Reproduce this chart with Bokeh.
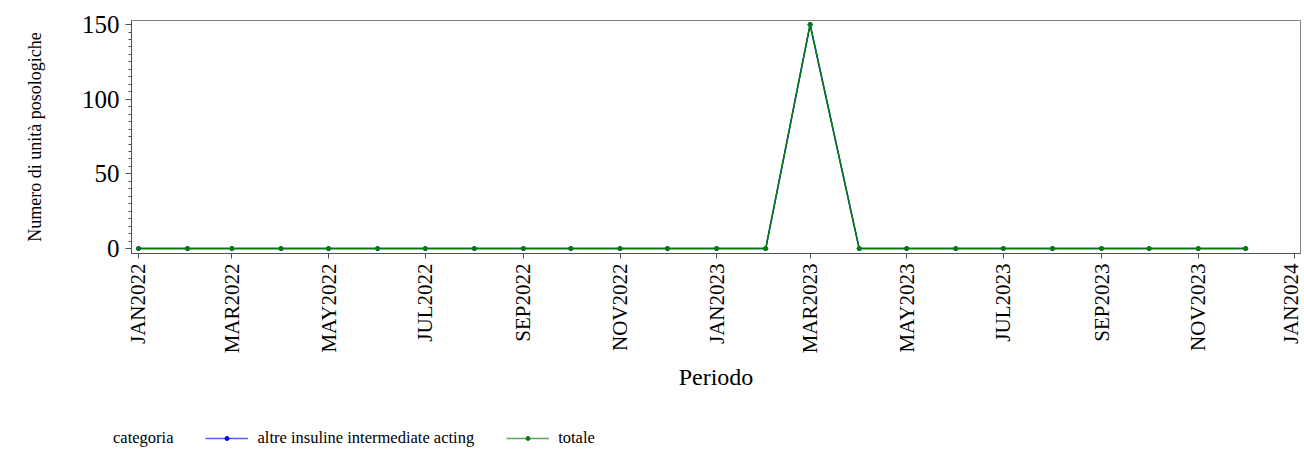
import pandas as pd
from math import pi
from bokeh.plotting import figure
from bokeh.models import (FixedTicker, SingleIntervalTicker, Legend, LegendItem,
                          Range1d, ColumnDataSource)
from bokeh.embed import file_html
from bokeh.resources import INLINE

# ---- data ----
periods = ["2022-01-01", "2022-02-01", "2022-03-01", "2022-04-01", "2022-05-01", "2022-06-01",
           "2022-07-01", "2022-08-01", "2022-09-01", "2022-10-01", "2022-11-01", "2022-12-01",
           "2023-01-01", "2023-02-01", "2023-03-01", "2023-04-01", "2023-05-01", "2023-06-01",
           "2023-07-01", "2023-08-01", "2023-09-01", "2023-10-01", "2023-11-01", "2023-12-01"]
altre_insuline = [0, 0, 0, 0, 0, 0, 0, 0, 0, 0, 0, 0,
                  0, 0, 150, 0, 0, 0, 0, 0, 0, 0, 0, 0]
totale = [0, 0, 0, 0, 0, 0, 0, 0, 0, 0, 0, 0,
          0, 0, 150, 0, 0, 0, 0, 0, 0, 0, 0, 0]
tick_dates = ["2022-01-01", "2022-03-01", "2022-05-01", "2022-07-01", "2022-09-01", "2022-11-01",
              "2023-01-01", "2023-03-01", "2023-05-01", "2023-07-01", "2023-09-01", "2023-11-01",
              "2024-01-01"]
tick_labels = ["JAN2022", "MAR2022", "MAY2022", "JUL2022", "SEP2022", "NOV2022",
               "JAN2023", "MAR2023", "MAY2023", "JUL2023", "SEP2023", "NOV2023", "JAN2024"]
series_names = ["altre insuline intermediate acting", "totale"]
series_colors = ["#0000ff", "#008000"]
legend_title = "categoria"
x_title = "Periodo"
y_title = "Numero di unità posologiche"

FONT = "Liberation Serif"
DAY = 86400000.0

x = pd.to_datetime(periods)
src = ColumnDataSource(dict(x=x, a=altre_insuline, t=totale))
tick_ms = [float(pd.Timestamp(d).value // 10**6) for d in tick_dates]

x0 = float(pd.Timestamp("2022-01-01").value // 10**6) - 4.4 * DAY
x1 = float(pd.Timestamp("2024-01-01").value // 10**6) + 3.6 * DAY

p = figure(width=1302, height=421, x_axis_type="datetime", output_backend="svg",
           toolbar_location=None, x_range=Range1d(x0, x1), y_range=Range1d(-3.3, 152.7),
           min_border_left=131, min_border_top=20, min_border_right=2, min_border_bottom=168)
p.xgrid.visible = False
p.ygrid.visible = False
p.outline_line_color = "#808080"
p.outline_line_width = 1

p.line("x", "a", source=src, color=series_colors[0], line_width=1.5)
p.scatter("x", "a", source=src, color=series_colors[0], size=4)
p.line("x", "t", source=src, color=series_colors[1], line_width=1.5)
p.scatter("x", "t", source=src, color=series_colors[1], size=4)

# x axis
xa = p.xaxis[0]
xa.ticker = FixedTicker(ticks=tick_ms, minor_ticks=[])
xa.major_label_overrides = dict(zip(tick_ms, tick_labels))
xa.major_label_orientation = pi / 2
xa.major_tick_in = 0
xa.major_tick_out = 5
xa.minor_tick_in = 0
xa.minor_tick_out = 0
xa.major_label_standoff = 5
xa.major_label_text_font = FONT
xa.major_label_text_font_size = "21px"
xa.major_label_text_color = "black"
xa.axis_label = x_title
xa.axis_label_text_font = FONT
xa.axis_label_text_font_size = "24px"
xa.axis_label_text_font_style = "normal"
xa.axis_label_text_color = "black"
xa.axis_label_standoff = 8
xa.axis_line_color = "#505050"
xa.major_tick_line_color = "#505050"

# y axis
ya = p.yaxis[0]
ya.ticker = SingleIntervalTicker(interval=50, num_minor_ticks=10)
ya.major_tick_in = 0
ya.major_tick_out = 6
ya.minor_tick_in = 0
ya.minor_tick_out = 3
ya.major_label_standoff = 6
ya.major_label_text_font = FONT
ya.major_label_text_font_size = "25px"
ya.major_label_text_color = "black"
ya.axis_label = y_title
ya.axis_label_text_font = FONT
ya.axis_label_text_font_size = "18px"
ya.axis_label_text_font_style = "normal"
ya.axis_label_text_color = "black"
ya.axis_label_standoff = 34
ya.axis_line_color = "#505050"
ya.major_tick_line_color = "#505050"
ya.minor_tick_line_color = "#505050"

# ---- legend strip: separate root figure; its ranges keep the series out of view ----
lf = figure(width=1302, height=31, output_backend="svg", toolbar_location=None,
            x_axis_location=None, y_axis_location=None,
            x_range=Range1d(0, 1), y_range=Range1d(0, 1),
            min_border_left=0, min_border_right=0, min_border_top=0, min_border_bottom=0)
lf.outline_line_color = None
lf.xgrid.visible = False
lf.ygrid.visible = False
d0 = lf.line("x", "t", source=src, line_alpha=0)
l1 = lf.line("x", "a", source=src, color=series_colors[0], line_width=1.5, line_alpha=0.65)
s1 = lf.scatter("x", "a", source=src, color=series_colors[0], size=4)
l2 = lf.line("x", "t", source=src, color=series_colors[1], line_width=1.5, line_alpha=0.65)
s2 = lf.scatter("x", "t", source=src, color=series_colors[1], size=4)

legend = Legend(items=[LegendItem(label=legend_title, renderers=[d0]),
                       LegendItem(label=series_names[0], renderers=[l1, s1]),
                       LegendItem(label=series_names[1], renderers=[l2, s2])],
                orientation="horizontal", location=(61, 4),
                border_line_color=None, background_fill_alpha=0,
                inactive_fill_alpha=0,
                padding=0, margin=0, spacing=32, label_standoff=9,
                glyph_width=43, glyph_height=10, label_height=10,
                label_text_font=FONT, label_text_font_size="16.5px",
                label_text_color="black")
lf.add_layout(legend, "center")

open("out.html", "w").write(file_html([p, lf], INLINE))
